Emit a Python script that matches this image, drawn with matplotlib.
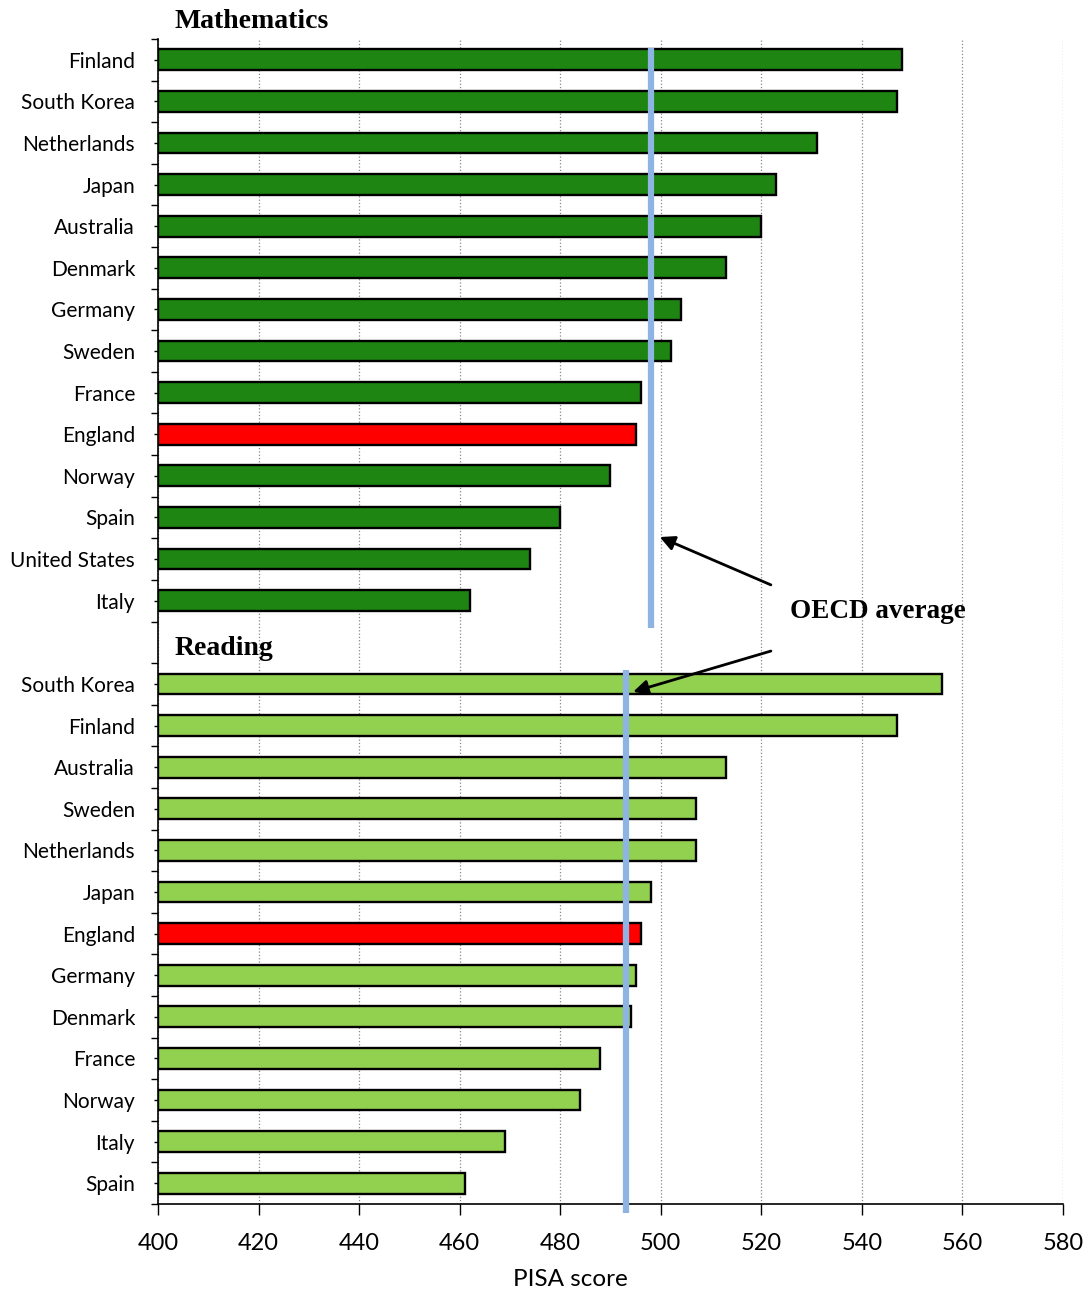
import numpy as np
import matplotlib.pyplot as plt
from matplotlib.ticker import FixedLocator

plt.rcParams['font.family'] = ['Lato', 'DejaVu Sans']

math_countries = ['Finland', 'South Korea', 'Netherlands', 'Japan', 'Australia',
                  'Denmark', 'Germany', 'Sweden', 'France', 'England', 'Norway',
                  'Spain', 'United States', 'Italy']
math_scores = [548, 547, 531, 523, 520, 513, 504, 502, 496, 495, 490, 480, 474, 462]

read_countries = ['South Korea', 'Finland', 'Australia', 'Sweden', 'Netherlands',
                  'Japan', 'England', 'Germany', 'Denmark', 'France', 'Norway',
                  'Italy', 'Spain']
read_scores = [556, 547, 513, 507, 507, 498, 496, 495, 494, 488, 484, 469, 461]

oecd_math = 498
oecd_read = 493

math_green = '#1e8512'
read_green = '#92d050'
highlight = '#ff0000'
oecd_blue = '#8db4e2'

fig = plt.figure(figsize=(10.91, 12.91), dpi=100)
ax = fig.add_axes([158/1091, 1 - 1204/1291, 905/1091, 1165/1291])

# rows: maths block, one blank row, reading block
y_math = np.arange(len(math_countries))
y_read = np.arange(len(read_countries)) + len(math_countries) + 1
n_rows = len(math_countries) + 1 + len(read_countries)

c_math = [highlight if c == 'England' else math_green for c in math_countries]
c_read = [highlight if c == 'England' else read_green for c in read_countries]

ax.barh(y_math, np.array(math_scores) - 400, left=400, height=0.5, color=c_math,
        edgecolor='black', linewidth=1.7, zorder=3)
ax.barh(y_read, np.array(read_scores) - 400, left=400, height=0.5, color=c_read,
        edgecolor='black', linewidth=1.7, zorder=3)

# OECD average lines
ax.plot([oecd_math, oecd_math], [-0.28, 13.65], color=oecd_blue, lw=4.5,
        zorder=4, solid_capstyle='butt', clip_on=False)
ax.plot([oecd_read, oecd_read], [14.66, 27.72], color=oecd_blue, lw=4.5,
        zorder=4, solid_capstyle='butt', clip_on=False)

ax.set_xlim(400, 580)
ax.set_ylim(n_rows - 0.5, -0.5)
ax.set_xticks(np.arange(400, 581, 20))
ax.tick_params(axis='x', labelsize=17, length=8, width=1, direction='out', pad=13)
ax.set_xlabel('PISA score', fontsize=17.5)
ax.xaxis.set_label_coords(0.456, -0.056)

ax.set_yticks(list(y_math) + list(y_read))
ax.set_yticklabels(math_countries + read_countries, fontsize=15)
ax.yaxis.set_minor_locator(FixedLocator(np.arange(-0.5, n_rows, 1)))
ax.tick_params(axis='y', which='major', length=3, width=1, pad=13.5)
ax.tick_params(axis='y', which='minor', length=5, width=1)

ax.grid(axis='x', linestyle=':', color='#888888', linewidth=0.9, zorder=0)
ax.set_axisbelow(True)
for s in ['top', 'right']:
    ax.spines[s].set_visible(False)
ax.spines['left'].set_linewidth(1.2)
ax.spines['bottom'].set_linewidth(1.2)

ax.text(403.2, -0.92, 'Mathematics', fontsize=20, fontweight='bold',
        family='Liberation Serif', ha='left', va='center', clip_on=False)
ax.text(403.2, 14.15, 'Reading', fontsize=20, fontweight='bold',
        family='Liberation Serif', ha='left', va='center')
ax.text(525.8, 13.27, 'OECD average', fontsize=19.5, fontweight='bold',
        family='Liberation Serif', ha='left', va='center')

arrow = dict(arrowstyle='-|>', color='black', lw=2, mutation_scale=22,
             shrinkA=0, shrinkB=0)
ax.annotate('', xy=(499.8, 11.47), xytext=(521.9, 12.62), arrowprops=arrow)
ax.annotate('', xy=(494.5, 15.19), xytext=(521.9, 14.21), arrowprops=arrow)

plt.savefig('out.png', dpi=100)
